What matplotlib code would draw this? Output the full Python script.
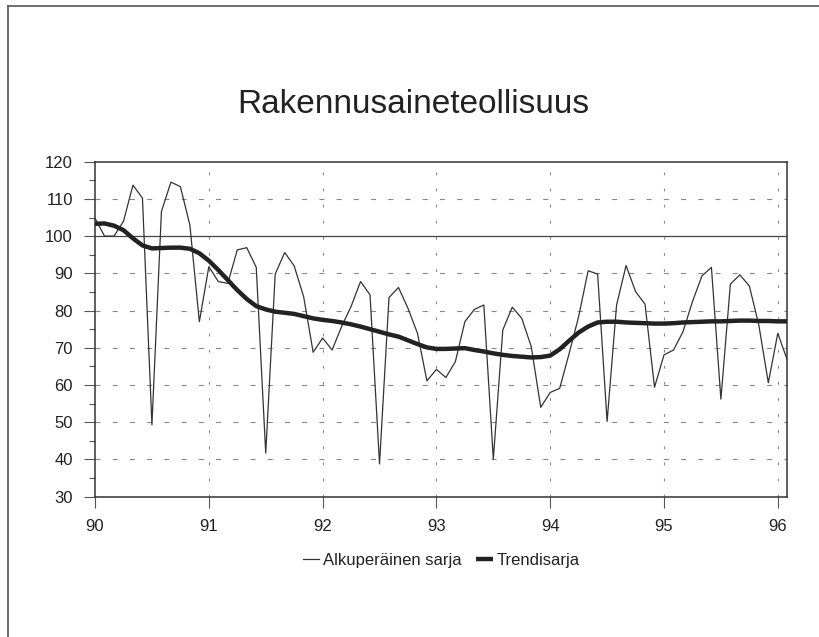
import matplotlib
matplotlib.use("Agg")
import matplotlib.pyplot as plt
from matplotlib.lines import Line2D

# kuukausittaiset arvot 1/1990 - 2/1996
start_year = 90
alkuperainen = [104.8, 100, 100, 104, 113.7, 110.2, 49.3, 106.6, 114.5, 113.3, 103, 77.0,
                91.8, 87.8, 87.3, 96.3, 96.9, 91.6, 41.7, 89.8, 95.6, 92.0, 83.7, 68.8,
                72.6, 69.4, 75.7, 81.1, 87.8, 84.2, 38.8, 83.5, 86.2, 80.6, 73.9, 61.1,
                64.2, 62.0, 66.3, 77.0, 80.3, 81.5, 40.1, 74.8, 80.9, 77.9, 70.3, 54.0,
                58.0, 59.1, 68.5, 78.4, 90.7, 89.8, 50.2, 81.5, 92.1, 85.1, 81.7, 59.4,
                68.1, 69.4, 74.3, 82.4, 89.3, 91.6, 56.2, 87.1, 89.6, 86.6, 76.1, 60.6,
                73.9, 66.7]
trendi = [103.3, 103.4, 102.8, 101.6, 99.4, 97.5, 96.7, 96.8, 96.9, 96.9, 96.6, 95.4,
          93.4, 90.9, 88.2, 85.5, 83.1, 81.2, 80.3, 79.7, 79.4, 79.1, 78.5, 77.9,
          77.5, 77.2, 76.8, 76.3, 75.7, 75.0, 74.3, 73.6, 73.0, 72.0, 71.0, 70.1,
          69.7, 69.7, 69.8, 69.9, 69.4, 69.0, 68.5, 68.1, 67.8, 67.6, 67.4, 67.5,
          67.9, 69.6, 71.9, 74.1, 75.7, 76.8, 77.0, 77.0, 76.8, 76.7, 76.6, 76.5,
          76.5, 76.6, 76.8, 76.9, 77.0, 77.1, 77.1, 77.2, 77.3, 77.3, 77.2, 77.2,
          77.1, 77.1]
vuodet = [90, 91, 92, 93, 94, 95, 96]
y_ticks = [30, 40, 50, 60, 70, 80, 90, 100, 110, 120]

kuukaudet = [start_year + i / 12 for i in range(len(alkuperainen))]

plt.rcParams['font.family'] = ['Liberation Sans', 'DejaVu Sans']

fig = plt.figure(figsize=(8.2, 6.37), dpi=100)
ax = fig.add_axes([0.1159, 0.2203, 0.8442, 0.5259])

# kehys kuvan ylä- ja vasempaan reunaan
fig.add_artist(Line2D([0.0098, 1.0], [0.99, 0.99], color="#555555", lw=1.2, transform=fig.transFigure))
fig.add_artist(Line2D([0.0098, 0.0098], [0.0, 0.99], color="#555555", lw=1.2, transform=fig.transFigure))

# ruudukko
for v in y_ticks[1:-1]:
    if v == 100:
        ax.axhline(v, color="#444444", lw=0.9, zorder=1)
    else:
        ax.axhline(v, color="#888888", lw=0.8, linestyle=(0, (4.5, 11)), zorder=1)
for v in vuodet[1:-1]:
    ax.axvline(v, color="#888888", lw=0.8, linestyle=(0, (2.5, 12)), zorder=1)
ax.axvline(vuodet[-1], color="#888888", lw=0.8, linestyle=(0, (2.5, 12)), zorder=1)

ax.plot(kuukaudet, alkuperainen, color="#333333", lw=0.9, label="Alkuperäinen sarja", zorder=3)
ax.plot(kuukaudet, trendi, color="#222222", lw=3.2, label="Trendisarja", zorder=4,
        solid_capstyle="butt")

ax.set_xlim(90, kuukaudet[-1])
ax.set_ylim(30, 120)
ax.set_xticks(vuodet)
ax.set_xticklabels([str(v) for v in vuodet])
ax.set_yticks(y_ticks)
ax.set_yticks([35, 45, 55, 65, 75, 85, 95, 105, 115], minor=True)
ax.tick_params(axis="both", which="major", direction="out", length=8, width=0.8,
               color="#555555", labelsize=12, labelcolor="#222222")
ax.tick_params(axis="y", which="major", pad=8)
ax.tick_params(axis="x", which="major", pad=8)
ax.tick_params(axis="y", which="minor", direction="out", length=4, width=0.8, color="#555555")
for s in ax.spines.values():
    s.set_color("#333333")
    s.set_linewidth(1.1)

ax.text(0.46, 1.0 + 57 / 335, "Rakennusaineteollisuus", transform=ax.transAxes,
        ha="center", va="center", fontsize=24, color="#222222")

ax.legend(loc="center", bbox_to_anchor=(0.5, -0.19), ncol=2, frameon=False,
          fontsize=12, handlelength=1.0, handletextpad=0.2, columnspacing=0.9,
          labelcolor="#222222")

fig.savefig("out.png", dpi=100, facecolor="white")
